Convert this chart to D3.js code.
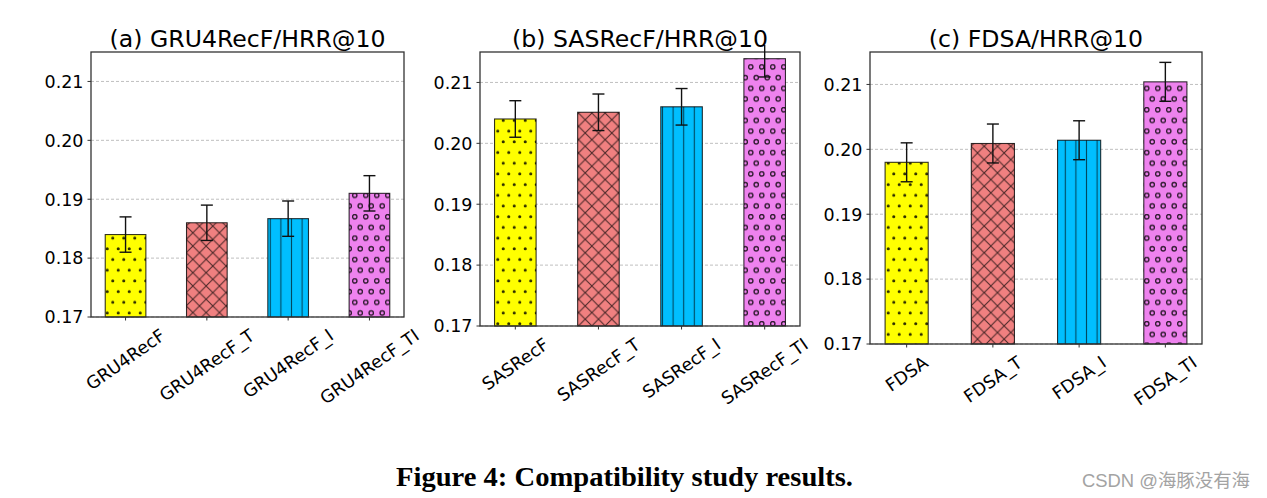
<!DOCTYPE html>
<html><head><meta charset="utf-8">
<script src="https://cdn.jsdelivr.net/npm/d3@7"></script>
<style>html,body{margin:0;padding:0;background:#fff;} svg{display:block;}</style>
</head><body>
<svg id="chart" width="1267" height="498"></svg>
<script>
// ---- data ----
const titles = ["(a) GRU4RecF/HRR@10", "(b) SASRecF/HRR@10", "(c) FDSA/HRR@10"];
const categoriesA = ["GRU4RecF", "GRU4RecF_T", "GRU4RecF_I", "GRU4RecF_TI"];
const categoriesB = ["SASRecF", "SASRecF_T", "SASRecF_I", "SASRecF_TI"];
const categoriesC = ["FDSA", "FDSA_T", "FDSA_I", "FDSA_TI"];
const valuesA = [0.184, 0.186, 0.1867, 0.191];
const valuesB = [0.204, 0.2051, 0.206, 0.2139];
const valuesC = [0.198, 0.2009, 0.2014, 0.2104];
const errorsA = [0.003, 0.003, 0.003, 0.003];
const errorsB = [0.003, 0.003, 0.003, 0.003];
const errorsC = [0.003, 0.003, 0.003, 0.003];
const yTicks = [0.17, 0.18, 0.19, 0.20, 0.21];
const yDomain = [0.17, 0.215];
const caption = "Figure 4: Compatibility study results.";
const watermark = "CSDN @海豚没有海";

// ---- layout / style ----
const svg = d3.select("#chart");
const boxes = [
  {x0: 91, x1: 404, y0: 52, y1: 317},
  {x0: 480, x1: 800, y0: 52, y1: 326},
  {x0: 870, x1: 1202, y0: 52, y1: 344}
];
const panelData = [
  {cats: categoriesA, vals: valuesA, errs: errorsA},
  {cats: categoriesB, vals: valuesB, errs: errorsB},
  {cats: categoriesC, vals: valuesC, errs: errorsC}
];
const barColors = ["#ffff00", "#f08080", "#00bfff", "#ee82ee"];
const hatchIds = ["h-dots", "h-cross", "h-vline", "h-rings"];
const FONT = "'DejaVu Sans', sans-serif";

// patterns
const defs = svg.append("defs");
defs.append("clipPath").attr("id", "errclip").append("rect")
  .attr("x", 0).attr("y", 45).attr("width", 1267).attr("height", 453);
{
  const p = defs.append("pattern").attr("id", "h-dots").attr("patternUnits", "userSpaceOnUse")
    .attr("width", 11).attr("height", 21.4);
  p.append("circle").attr("cx", 2.75).attr("cy", 2.7).attr("r", 1.55).attr("fill", "rgba(0,0,0,0.82)");
  p.append("circle").attr("cx", 8.25).attr("cy", 13.4).attr("r", 1.55).attr("fill", "rgba(0,0,0,0.82)");
}
{
  const w = 13.3;
  const p = defs.append("pattern").attr("id", "h-cross").attr("patternUnits", "userSpaceOnUse")
    .attr("width", w).attr("height", w);
  p.append("path").attr("d", `M-1,-1L${w+1},${w+1}M${w+1},-1L-1,${w+1}`)
    .attr("stroke", "rgba(0,0,0,0.68)").attr("stroke-width", 1.1).attr("fill", "none");
}
{
  const p = defs.append("pattern").attr("id", "h-vline").attr("patternUnits", "userSpaceOnUse")
    .attr("width", 10.6).attr("height", 10);
  p.append("line").attr("x1", 5.3).attr("x2", 5.3).attr("y1", -1).attr("y2", 11)
    .attr("stroke", "rgba(0,0,0,0.62)").attr("stroke-width", 1.1);
}
{
  const p = defs.append("pattern").attr("id", "h-rings").attr("patternUnits", "userSpaceOnUse")
    .attr("width", 11).attr("height", 21.4);
  p.append("circle").attr("cx", 2.75).attr("cy", 2.7).attr("r", 2.2).attr("fill", "none")
    .attr("stroke", "rgba(0,0,0,0.78)").attr("stroke-width", 1.4);
  p.append("circle").attr("cx", 8.25).attr("cy", 13.4).attr("r", 2.2).attr("fill", "none")
    .attr("stroke", "rgba(0,0,0,0.78)").attr("stroke-width", 1.4);
}

const tickFs = 17.5, titleFs = 23.6;
const theta = 35 * Math.PI / 180;

boxes.forEach((b, pi) => {
  const d = panelData[pi];
  const g = svg.append("g");
  const x = d3.scaleLinear().domain([-0.425, d.cats.length - 1 + 0.425]).range([b.x0, b.x1]);
  const y = d3.scaleLinear().domain(yDomain).range([b.y1, b.y0]);
  const idx = d.cats.map((c, i) => i);

  // grid
  g.append("g").selectAll("line").data(yTicks).join("line")
    .attr("x1", b.x0).attr("x2", b.x1).attr("y1", v => y(v)).attr("y2", v => y(v))
    .attr("stroke", "#b8b8b8").attr("stroke-width", 0.9).attr("stroke-dasharray", "3,2");

  // bars
  const bw = x(0.25) - x(-0.25);
  const bars = g.append("g");
  bars.selectAll("rect.fill").data(idx).join("rect").attr("class", "fill")
    .attr("x", i => x(i - 0.25)).attr("width", bw)
    .attr("y", i => y(d.vals[i])).attr("height", i => y(yDomain[0]) - y(d.vals[i]))
    .attr("fill", i => barColors[i]);
  bars.selectAll("rect.hatch").data(idx).join("rect").attr("class", "hatch")
    .attr("x", i => x(i - 0.25)).attr("width", bw)
    .attr("y", i => y(d.vals[i])).attr("height", i => y(yDomain[0]) - y(d.vals[i]))
    .attr("fill", i => `url(#${hatchIds[i]})`);
  bars.selectAll("rect.edge").data(idx).join("rect").attr("class", "edge")
    .attr("x", i => x(i - 0.25)).attr("width", bw)
    .attr("y", i => y(d.vals[i])).attr("height", i => y(yDomain[0]) - y(d.vals[i]))
    .attr("fill", "none").attr("stroke", "rgba(0,0,0,0.8)").attr("stroke-width", 1.1);

  // frame
  g.append("rect").attr("x", b.x0).attr("y", b.y0).attr("width", b.x1 - b.x0).attr("height", b.y1 - b.y0)
    .attr("fill", "none").attr("stroke", "#333").attr("stroke-width", 1.3);

  // y ticks
  g.append("g").selectAll("line").data(yTicks).join("line")
    .attr("x1", b.x0 - 3.5).attr("x2", b.x0).attr("y1", v => y(v)).attr("y2", v => y(v))
    .attr("stroke", "#333").attr("stroke-width", 1);
  g.append("g").selectAll("text").data(yTicks).join("text")
    .attr("x", b.x0 - 7.5).attr("y", v => y(v)).attr("dy", (0.36 * tickFs) + "px")
    .attr("text-anchor", "end").attr("font-family", FONT).attr("font-size", tickFs)
    .attr("fill", "#000").text(v => v.toFixed(2));

  // x ticks
  g.append("g").selectAll("line").data(idx).join("line")
    .attr("x1", i => x(i)).attr("x2", i => x(i)).attr("y1", b.y1).attr("y2", b.y1 + 3.5)
    .attr("stroke", "#333").attr("stroke-width", 1);

  // error bars
  const eb = g.append("g").attr("stroke", "#111").attr("stroke-width", 1.4)
    .attr("clip-path", "url(#errclip)");
  idx.forEach(i => {
    const cx = x(i), top = y(d.vals[i] + d.errs[i]), bot = y(d.vals[i] - d.errs[i]);
    eb.append("line").attr("x1", cx).attr("x2", cx).attr("y1", top).attr("y2", bot);
    eb.append("line").attr("x1", cx - 6).attr("x2", cx + 6).attr("y1", top).attr("y2", top);
    eb.append("line").attr("x1", cx - 6).attr("x2", cx + 6).attr("y1", bot).attr("y2", bot);
  });

  // x labels rotated
  const lh = 1.164 * tickFs;
  g.append("g").selectAll("text").data(idx).join("text")
    .attr("font-family", FONT).attr("font-size", tickFs).attr("text-anchor", "middle")
    .attr("fill", "#000").attr("y", 0.346 * tickFs)
    .text(i => d.cats[i])
    .each(function(i) {
      const w = this.getComputedTextLength();
      const bh = w * Math.sin(theta) + lh * Math.cos(theta);
      const cy = b.y1 + 8 + bh / 2;
      d3.select(this).attr("transform", `translate(${x(i)},${cy}) rotate(-35)`);
    });

  // title
  g.append("text").attr("x", (b.x0 + b.x1) / 2).attr("y", 46.5)
    .attr("text-anchor", "middle").attr("font-family", FONT).attr("font-size", titleFs)
    .attr("fill", "#000").text(titles[pi]);
});

// caption
svg.append("text").attr("x", 396).attr("y", 486)
  .attr("font-family", "'Liberation Serif', 'DejaVu Serif', serif").attr("font-weight", "bold")
  .attr("font-size", 27).attr("textLength", 457).attr("lengthAdjust", "spacingAndGlyphs")
  .attr("fill", "#000").text(caption);

// watermark
svg.append("text").attr("x", 1082).attr("y", 487)
  .attr("font-family", "'Liberation Sans', 'Noto Sans CJK SC', sans-serif")
  .attr("font-size", 18).attr("textLength", 168).attr("lengthAdjust", "spacingAndGlyphs")
  .attr("fill", "#a3a3a3").text(watermark);
</script>
</body></html>
